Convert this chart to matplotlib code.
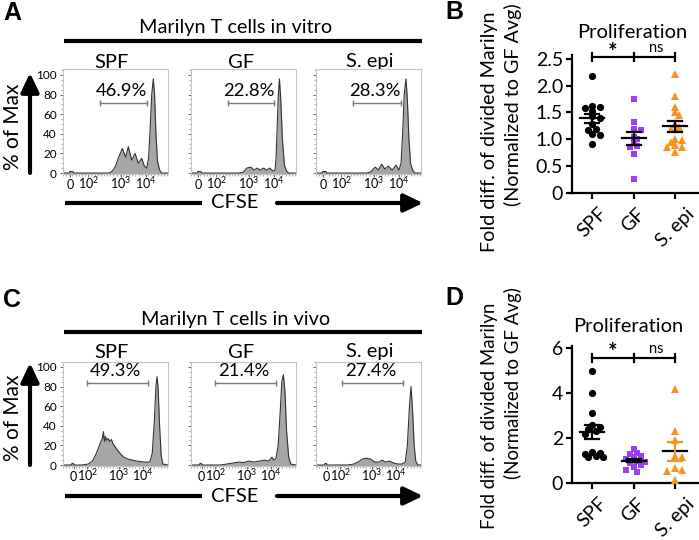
import numpy as np
import matplotlib
matplotlib.use('Agg')
from matplotlib import pyplot as plt
from matplotlib.ticker import MultipleLocator

plt.rcParams['font.family'] = ['Lato', 'DejaVu Sans']
plt.rcParams['mathtext.fontset'] = 'custom'
plt.rcParams['mathtext.rm'] = 'Lato'
plt.rcParams['mathtext.it'] = 'Lato'

# ---- CFSE histograms (position along the display axis 0..1, % of max) ----
groups = ['SPF', 'GF', 'S. epi']

vitro_pos = [
    [0.0, 0.06, 0.065, 0.095, 0.10, 0.44, 0.47, 0.50, 0.53, 0.565, 0.597, 0.622, 0.654, 0.686,
     0.717, 0.749, 0.775, 0.797, 0.815, 0.83, 0.845, 0.86, 0.872, 0.885, 0.90, 0.92, 0.94, 1.0],
    [0.0, 0.06, 0.065, 0.095, 0.10, 0.46, 0.50, 0.53, 0.57, 0.60, 0.63, 0.66, 0.69, 0.72, 0.75,
     0.78, 0.80, 0.81, 0.822, 0.832, 0.842, 0.855, 0.87, 0.89, 0.91, 0.93, 1.0],
    [0.0, 0.06, 0.065, 0.095, 0.10, 0.48, 0.52, 0.545, 0.565, 0.595, 0.625, 0.655, 0.689, 0.725,
     0.762, 0.79, 0.81, 0.825, 0.84, 0.857, 0.87, 0.885, 0.90, 0.92, 0.94, 1.0],
]
vitro_pct = [
    [0, 0, 1.5, 1.5, 0, 0, 2, 7, 16, 25, 16, 27, 13, 20,
     10, 15, 7, 5, 15, 45, 80, 96, 80, 40, 12, 3, 0, 0],
    [0, 0, 1.5, 1.5, 0, 0, 1, 5, 6, 3, 5, 3, 5, 3, 5,
     2, 3, 15, 50, 80, 96, 75, 35, 8, 2, 0, 0],
    [0, 0, 1.5, 1.5, 0, 0, 1, 4, 6, 3, 9, 4, 7, 3,
     8, 3, 10, 40, 80, 96, 75, 35, 10, 3, 0, 0],
]
vivo_pos = [
    [0.0, 0.08, 0.085, 0.10, 0.105, 0.18, 0.24, 0.28, 0.31, 0.34, 0.36, 0.375, 0.385, 0.395,
     0.405, 0.415, 0.43, 0.445, 0.46, 0.48, 0.50, 0.52, 0.55, 0.58, 0.62, 0.66, 0.70, 0.74,
     0.78, 0.81, 0.83, 0.85, 0.87, 0.885, 0.895, 0.905, 0.92, 0.935, 0.95, 1.0],
    [0.0, 0.08, 0.085, 0.10, 0.105, 0.28, 0.34, 0.40, 0.45, 0.50, 0.55, 0.60, 0.65, 0.70,
     0.74, 0.77, 0.79, 0.81, 0.83, 0.85, 0.865, 0.88, 0.895, 0.91, 0.93, 0.95, 1.0],
    [0.0, 0.08, 0.085, 0.10, 0.105, 0.30, 0.36, 0.40, 0.44, 0.48, 0.52, 0.56, 0.60, 0.63,
     0.66, 0.70, 0.74, 0.78, 0.82, 0.85, 0.87, 0.89, 0.905, 0.92, 0.935, 0.95, 0.97, 1.0],
]
vivo_pct = [
    [0, 0, 1.5, 1.5, 0, 0, 1, 4, 10, 18, 24, 27, 34, 24,
     29, 25, 27, 24, 26, 21, 18, 15, 11, 8, 6, 5, 4, 3.5,
     3, 3, 4, 12, 45, 80, 90, 80, 40, 10, 1, 0],
    [0, 0, 1.5, 1.5, 0, 0, 1, 2, 3, 2.5, 4, 3, 4, 5,
     4, 8, 5, 7, 20, 55, 85, 92, 75, 35, 8, 1, 0],
    [0, 0, 1.5, 1.5, 0, 0, 1, 3, 6, 7, 6, 3, 3, 5,
     3, 4, 2, 1, 1, 3, 20, 60, 80, 55, 20, 4, 0, 0],
]
# divided-cell gates: start, end, label
vitro_gates = [(0.35, 0.80, '46.9%'), (0.35, 0.79, '22.8%'), (0.355, 0.81, '28.3%')]
vivo_gates = [(0.23, 0.81, '49.3%'), (0.23, 0.81, '21.4%'), (0.25, 0.83, '27.4%')]
vitro_ticks = [0.07, 0.24, 0.55, 0.79]
vivo_ticks = [0.10, 0.23, 0.53, 0.76]
tick_labels = ['0', r'$10^{2}$', r'$10^{3}$', r'$10^{4}$']

# ---- proliferation (fold diff. normalized to GF avg) ----
vitro_spf = [2.17, 1.62, 1.60, 1.58, 1.52, 1.43, 1.40, 1.28, 1.20, 1.18, 1.10, 1.08, 0.92]
vitro_gf = [1.75, 1.32, 1.20, 1.18, 1.05, 1.00, 0.95, 0.88, 0.85, 0.72, 0.27]
vitro_sepi = [2.22, 1.80, 1.60, 1.50, 1.45, 1.29, 1.23, 1.20, 1.00, 0.98, 0.95, 0.90, 0.86, 0.86, 0.76]
vivo_spf = [5.0, 4.0, 3.1, 2.6, 2.5, 2.4, 2.3, 2.2, 1.4, 1.35, 1.3, 1.2, 1.15, 1.15]
vivo_gf = [1.5, 1.35, 1.3, 1.2, 1.15, 1.05, 1.0, 0.95, 0.9, 0.8, 0.7, 0.6, 0.5]
vivo_sepi = [4.2, 2.3, 1.9, 1.2, 1.15, 0.65, 0.6, 0.55, 0.15]

colors = ['black', '#9b3ff0', '#f7931e']
markers = ['o', 's', '^']
msizes = [5.2, 4.8, 5.6]

W, H = 699, 540
fig = plt.figure(figsize=(W / 100, H / 100), dpi=100)


def box(x0, y0, x1, y1):
    return [x0 / W, 1 - y1 / H, (x1 - x0) / W, (y1 - y0) / H]


def histo(rect, pos, pct, gate, ticks, ylim, first):
    ax = fig.add_axes(rect)
    ax.fill_between(pos, pct, -1, color='#a6a6a6', lw=0)
    ax.plot(pos, pct, color='#333333', lw=0.8)
    g0, g1, lab = gate
    gy = 71 if ylim[1] > 105.5 else 84
    ax.plot([g0, g1], [gy, gy], color='#7a7a7a', lw=1.0)
    ax.plot([g0, g1], [gy, gy], ls='none', marker='|', ms=5, mew=1.0, color='#7a7a7a')
    ax.text((g0 + g1) / 2 - 0.02, gy + 4, lab, ha='center', va='bottom', fontsize=13.3)
    ax.set_xlim(0, 1)
    ax.set_ylim(*ylim)
    for s in ax.spines.values():
        s.set_color('#c4c4c4')
        s.set_linewidth(0.8)
    ax.set_xticks(ticks)
    ax.set_xticklabels(tick_labels, fontsize=9, va='baseline')
    ax.set_yticks([0, 20, 40, 60, 80, 100])
    ax.set_yticklabels(['0', '20', '40', '60', '80', '100'] if first else [], fontsize=8.5)
    ax.xaxis.set_minor_locator(MultipleLocator(0.03))
    ax.yaxis.set_minor_locator(MultipleLocator(5))
    ax.tick_params(which='major', length=2.5, width=0.7, color='#666666', pad=2)
    ax.tick_params(axis='x', which='major', pad=8)
    ax.tick_params(which='minor', length=1.2, width=0.5, color='#888888')
    return ax


vitro_boxes = [(63, 69, 168, 174), (191, 69, 296, 174), (316, 69, 421, 174)]
vivo_boxes = [(63, 362, 168, 466), (191, 362, 296, 466), (316, 362, 421, 466)]
for i in range(3):
    histo(box(*vitro_boxes[i]), vitro_pos[i], vitro_pct[i], vitro_gates[i], vitro_ticks, (-1, 106), i == 0)
    histo(box(*vivo_boxes[i]), vivo_pos[i], vivo_pct[i], vivo_gates[i], vivo_ticks, (-1, 105), i == 0)


def swarm(ax, xc, vals, diam):
    t = ax.transData
    ypx = t.transform(np.column_stack([np.full(len(vals), xc), vals]))[:, 1]
    xscale = t.transform((1, 0))[0] - t.transform((0, 0))[0]
    placed = []
    xs = np.zeros(len(vals))
    for i in np.argsort(vals)[::-1]:
        for k in [0, 1, -1, 2, -2, 3, -3, 4, -4]:
            dx = k * diam * 0.5
            if all((dx - px) ** 2 + (ypx[i] - py) ** 2 >= (diam * 0.6) ** 2 for px, py in placed):
                break
        placed.append((dx, ypx[i]))
        xs[i] = xc + dx / xscale
    return xs


def prolif(rect, data, ylim, yticks, yticklabels, bracket_y, tick_h, err_colors):
    ax = fig.add_axes(rect)
    ax.set_xlim(-0.49, 2.56)
    ax.set_ylim(*ylim)
    for i, vals in enumerate(data):
        xs = swarm(ax, i, vals, 7.5)
        ax.plot(xs, vals, ls='none', marker=markers[i], ms=msizes[i], color=colors[i],
                mew=0, clip_on=False, zorder=3)
        m = np.mean(vals)
        se = np.std(vals, ddof=1) / np.sqrt(len(vals))
        ax.plot([i - 0.29, i + 0.29], [m, m], color='black', lw=1.6, zorder=4)
        ec = err_colors[i]
        ax.plot([i, i], [m - se, m + se], color=ec, lw=1.6, zorder=4)
        ax.plot([i - 0.17, i + 0.17], [m + se, m + se], color=ec, lw=1.6, zorder=4)
        ax.plot([i - 0.17, i + 0.17], [m - se, m - se], color=ec, lw=1.6, zorder=4)
    ax.plot([0, 2], [bracket_y, bracket_y], color='black', lw=1.6, clip_on=False)
    for i in range(3):
        ax.plot([i, i], [bracket_y - tick_h, bracket_y + tick_h], color='black', lw=1.6, clip_on=False)
    ax.annotate('*', (0.5, bracket_y), xytext=(0, 5), textcoords='offset pixels',
                ha='center', va='center', fontsize=16, fontweight='bold')
    ax.annotate('ns', (1.55, bracket_y), xytext=(0, 9), textcoords='offset pixels',
                ha='center', va='center', fontsize=10.5)
    ax.set_xticks([0, 1, 2])
    ax.set_xticklabels(groups, rotation=45, ha='center', fontsize=14)
    ax.set_yticks(yticks)
    ax.set_yticklabels(yticklabels, fontsize=14)
    for s in ['top', 'right']:
        ax.spines[s].set_visible(False)
    for s in ['left', 'bottom']:
        ax.spines[s].set_linewidth(1.6)
    ax.tick_params(length=4.5, width=1.6, pad=2)
    ax.tick_params(axis='x', pad=4)
    return ax


prolif(box(572, 55, 698, 193), [vitro_spf, vitro_gf, vitro_sepi], (0, 2.57),
       [0, 0.5, 1.0, 1.5, 2.0, 2.5], ['0', '0.5', '1.0', '1.5', '2.0', '2.5'], 2.53, 0.075,
       ['black', 'black', 'black'])
prolif(box(572, 346, 698, 483), [vivo_spf, vivo_gf, vivo_sepi], (0, 6.1),
       [0, 2, 4, 6], ['0', '2', '4', '6'], 5.58, 0.18,
       ['black', 'black', colors[2]])

# ---- overlay for labels, bars and arrows (pixel coordinates) ----
ov = fig.add_axes([0, 0, 1, 1], zorder=-1)
ov.set_xlim(0, W)
ov.set_ylim(H, 0)
ov.axis('off')

for lab, x, y in [('A', 12, 13), ('B', 454, 12), ('C', 12, 300), ('D', 454, 298)]:
    ov.text(x, y, lab, fontsize=18, fontweight='bold', family='Liberation Sans', ha='center', va='center')

for px, py in [(632, 32), (628, 326)]:
    ov.text(px, py, 'Proliferation', fontsize=14.5, ha='center', va='center')

arrow = dict(arrowstyle='-|>,head_length=1.15,head_width=0.55', lw=3, color='black', shrinkA=0, shrinkB=0)
for ttl, ty, by, sy, ay, axy0, axy1 in [('Marilyn T cells in vitro', 28, 41, 62, 203, 173, 73),
                                        ('Marilyn T cells in vivo', 320, 332, 352, 496, 465, 363)]:
    ov.text(236, ty, ttl, fontsize=14.3, ha='center', va='center')
    ov.plot([64, 422], [by, by], color='black', lw=3, solid_capstyle='butt')
    for name, sx in zip(groups, [112, 241, 370]):
        ov.text(sx, sy, name, fontsize=14.5, ha='center', va='center')
    ov.text(235, ay, 'CFSE', fontsize=14.5, ha='center', va='center')
    ov.plot([65, 202], [ay, ay], color='black', lw=3, solid_capstyle='butt')
    ov.annotate('', xy=(423, ay), xytext=(277, ay), arrowprops=arrow)
    ov.annotate('', xy=(30, axy1), xytext=(30, axy0), arrowprops=arrow)
    ov.text(13, (axy0 + axy1) / 2 + 4, '% of Max', fontsize=15, rotation=90, ha='center', va='center')

for cy1, cy2, fs in [(132, 105, 14.2), (416, 383, 13.4)]:
    ov.text(490, cy1, 'Fold diff. of divided Marilyn', fontsize=fs, rotation=90, ha='center', va='center')
    ov.text(513, cy2, '(Normalized to GF Avg)', fontsize=fs, rotation=90, ha='center', va='center')

fig.savefig('out.png', dpi=100)
